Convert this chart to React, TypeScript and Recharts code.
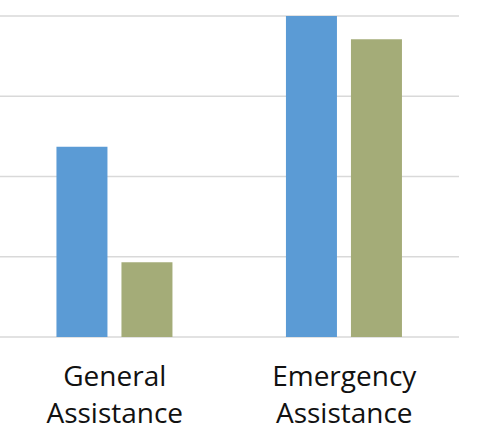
import React from 'react';
import { BarChart, Bar, XAxis, YAxis, CartesianGrid } from 'recharts';

const categories = ['General\nAssistance', 'Emergency\nAssistance'];
const seriesA = [237, 400];
const seriesB = [93, 371];
const yTicks = [0, 100, 200, 300, 400];

const data = categories.map((name, i) => ({ name, a: seriesA[i], b: seriesB[i] }));

const TwoLineTick = (props: any) => {
  const { x, y, payload } = props;
  const lines = String(payload.value).split('\n');
  return (
    <g>
      {lines.map((line, i) => (
        <text
          key={i}
          x={x}
          y={y + 49 + i * 37}
          textAnchor="middle"
          fill="#111"
          fontSize={28}
          fontFamily="'Open Sans', sans-serif"
        >
          {line}
        </text>
      ))}
    </g>
  );
};

export default function App() {
  return (
    <div style={{ position: 'absolute', left: 0, top: 0, background: '#fff' }}>
      <BarChart
        width={487}
        height={433}
        data={data}
        margin={{ top: 16, right: 28, left: 0, bottom: 0 }}
        barCategoryGap="24.6%"
        barGap={14}
      >
        <CartesianGrid vertical={false} stroke="#d9d9d9" strokeWidth={1.5} />
        <YAxis hide domain={[0, 400]} ticks={yTicks} />
        <XAxis
          dataKey="name"
          axisLine={false}
          tickLine={false}
          tickSize={0}
          tickMargin={0}
          height={96}
          interval={0}
          tick={<TwoLineTick />}
        />
        <Bar dataKey="a" fill="#5B9BD5" isAnimationActive={false} />
        <Bar dataKey="b" fill="#A4AC78" isAnimationActive={false} />
      </BarChart>
    </div>
  );
}
